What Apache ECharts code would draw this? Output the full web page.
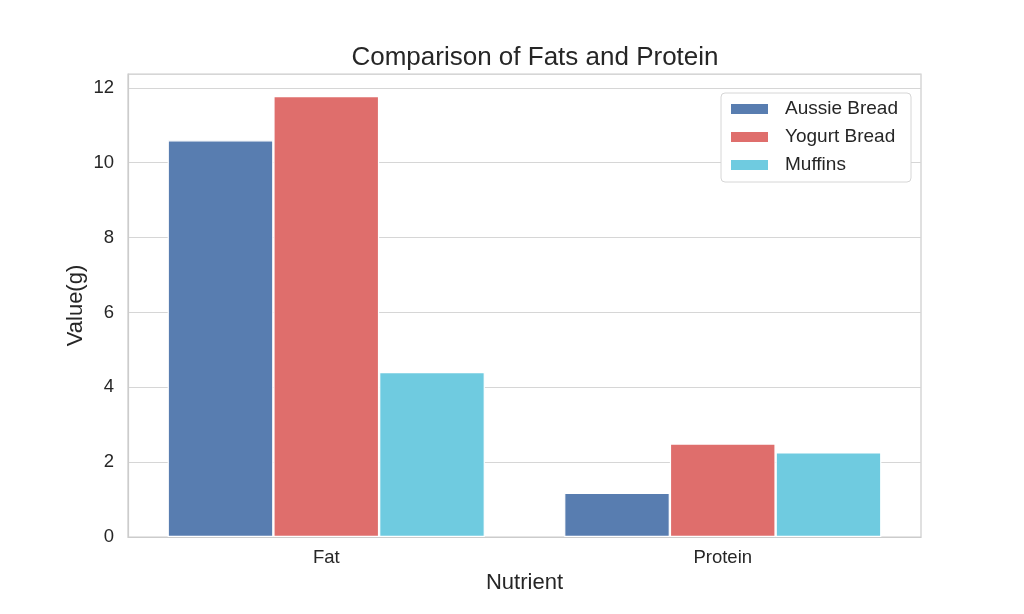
<!DOCTYPE html>
<html><head><meta charset="utf-8">
<script src="https://cdn.jsdelivr.net/npm/echarts@6/dist/echarts.min.js"></script>
<style>html,body{margin:0;padding:0;background:#fff}#c{width:1024px;height:614px}</style>
</head><body><div id="c"></div>
<script>
const categories = ["Fat", "Protein"];
const seriesNames = ["Aussie Bread", "Yogurt Bread", "Muffins"];
const aussieBread = [10.6, 1.18];
const yogurtBread = [11.78, 2.5];
const muffins = [4.41, 2.26];
const yTicks = [0, 2, 4, 6, 8, 10, 12];
const colors = ["#587db0", "#df6e6c", "#6fcbe0"];

const values = [aussieBread, yogurtBread, muffins];
const font = "'Liberation Sans', Arial, sans-serif";
const chart = echarts.init(document.getElementById('c'), null, {renderer: 'canvas'});
chart.setOption({
  animation: false,
  backgroundColor: '#ffffff',
  title: {
    text: 'Comparison of Fats and Protein',
    left: 530, top: 40, textAlign: 'center',
    textStyle: {fontFamily: font, fontSize: 26, fontWeight: 'normal', color: '#262626'}
  },
  legend: {
    orient: 'vertical', left: 721, top: 93,
    padding: [6, 13, 7, 8],
    itemWidth: 39, itemHeight: 12, itemGap: 8,
    backgroundColor: '#ffffff', borderColor: '#d6d6d6', borderWidth: 1, borderRadius: 4,
    textStyle: {fontFamily: font, fontSize: 19, lineHeight: 20, color: '#262626', padding: [0, 0, 0, 11]},
    icon: 'rect',
    data: seriesNames
  },
  grid: {left: 128, right: 103, top: 74, bottom: 77, show: true, borderColor: '#cccccc', borderWidth: 1.2, backgroundColor: 'transparent'},
  xAxis: {
    type: 'category', data: categories,
    name: 'Nutrient', nameLocation: 'middle', nameGap: 33,
    nameTextStyle: {fontFamily: font, fontSize: 22, color: '#262626'},
    axisLine: {show: true, lineStyle: {color: '#cccccc', width: 1.2}},
    axisTick: {show: false},
    axisLabel: {fontFamily: font, fontSize: 18.5, color: '#262626', margin: 11},
    splitLine: {show: false}
  },
  yAxis: {
    type: 'value', min: 0, max: 12.37, interval: 2,
    name: 'Value(g)', nameLocation: 'middle', nameGap: 41, nameMoveOverlap: false,
    nameTextStyle: {fontFamily: font, fontSize: 22, color: '#262626'},
    axisLine: {show: true, lineStyle: {color: '#cccccc', width: 1.2}},
    axisTick: {show: false},
    axisLabel: {fontFamily: font, fontSize: 18.5, color: '#262626', margin: 14,
      formatter: v => yTicks.includes(v) ? String(v) : ''},
    splitLine: {show: true, lineStyle: {color: '#d6d6d6', width: 1.2}}
  },
  series: seriesNames.map((n, i) => ({
    name: n, type: 'bar', data: values[i],
    barGap: '0%', barCategoryGap: '20%',
    itemStyle: {color: colors[i], borderColor: '#ffffff', borderWidth: 1.2},
    z: 3
  }))
});
</script></body></html>
